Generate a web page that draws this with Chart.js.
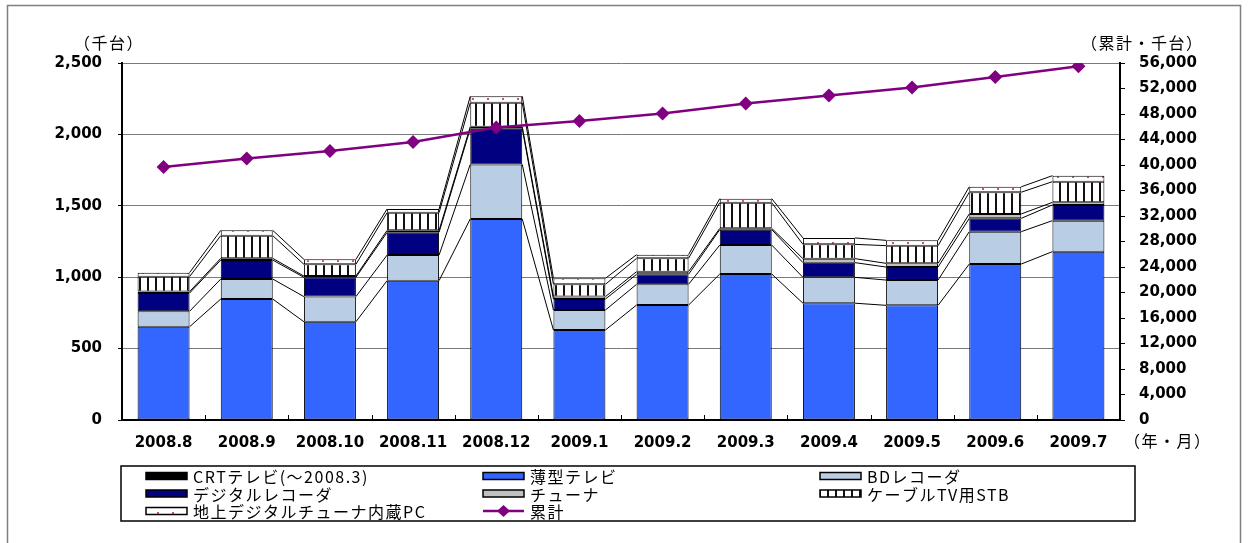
<!DOCTYPE html>
<html>
<head>
<meta charset="utf-8">
<script src="https://cdn.jsdelivr.net/npm/chart.js@4.4.1/dist/chart.umd.min.js"></script>
<style>
html, body { margin: 0; padding: 0; background: #fff; }
#wrap { width: 1248px; height: 543px; }
</style>
</head>
<body>
<div id="wrap"><canvas id="chart" width="1248" height="543"></canvas></div>
<script>
// 千台 / month
const months = ['2008.8', '2008.9', '2008.10', '2008.11', '2008.12', '2009.1', '2009.2', '2009.3', '2009.4', '2009.5', '2009.6', '2009.7'];
const crtTv = [0, 0, 0, 0, 0, 0, 0, 0, 0, 0, 0, 0];
const flatTv = [653, 847, 688, 976, 1408, 630, 805, 1022, 818, 803, 1092, 1179];
const bdRecorder = [108, 140, 176, 179, 382, 140, 145, 203, 181, 177, 227, 217];
const digitalRecorder = [128, 133, 135, 159, 250, 77, 70, 108, 103, 91, 93, 110];
const tuner = [10, 12, 9, 14, 14, 17, 19, 9, 28, 26, 31, 18];
const cableStb = [105, 159, 82, 124, 168, 86, 93, 180, 100, 124, 152, 145];
const pcTuner = [28, 37, 35, 26, 45, 42, 26, 28, 45, 37, 38, 42];
const cumulative = [39700, 41030, 42200, 43620, 45880, 46920, 48080, 49650, 50900, 52170, 53800, 55500];

const seriesNames = ['CRTテレビ(～2008.3)', '薄型テレビ', 'BDレコーダ', 'デジタルレコーダ', 'チューナ', 'ケーブルTV用STB', '地上デジタルチューナ内蔵PC', '累計'];

const canvas = document.getElementById('chart');
const ctx = canvas.getContext('2d');

function stripePattern() {
    const c = document.createElement('canvas');
    c.width = 8; c.height = 8;
    const g = c.getContext('2d');
    g.fillStyle = '#fff'; g.fillRect(0, 0, 8, 8);
    g.fillStyle = '#111'; g.fillRect(3, 0, 2, 8);
    return ctx.createPattern(c, 'repeat');
}

function dotPattern() {
    const c = document.createElement('canvas');
    c.width = 15; c.height = 6;
    const g = c.getContext('2d');
    g.fillStyle = '#fff'; g.fillRect(0, 0, 15, 6);
    g.fillStyle = '#d9458c'; g.fillRect(7, 2, 2, 2);
    return ctx.createPattern(c, 'repeat');
}

const fills = ['#000000', '#3366ff', '#b9cde5', '#000080', '#c0c0c0', stripePattern(), dotPattern()];
const barData = [crtTv, flatTv, bdRecorder, digitalRecorder, tuner, cableStb, pcTuner];
const purple = '#800080';

const tickFont = { family: '"DejaVu Sans"', size: 15, weight: 'bold' };
const jpFont = '16px "Noto Sans CJK JP"';

const datasets = [{
    type: 'line',
    label: seriesNames[7],
    data: cumulative,
    yAxisID: 'y1',
    borderColor: purple,
    backgroundColor: purple,
    borderWidth: 2.5,
    pointStyle: 'rectRot',
    pointRadius: 7,
    pointBorderWidth: 0,
    tension: 0
}];
for (let i = 0; i < barData.length; i++) {
    datasets.push({
        label: seriesNames[i],
        data: barData[i],
        yAxisID: 'y',
        backgroundColor: fills[i],
        borderColor: '#000',
        borderWidth: 1,
        borderSkipped: false,
        barPercentage: 0.625,
        categoryPercentage: 1
    });
}

// Excel-style series lines between the stacked bars
const seriesLines = {
    id: 'seriesLines',
    beforeDatasetsDraw(chart) {
        const c = chart.ctx;
        c.save();
        c.strokeStyle = '#000';
        c.lineWidth = 1;
        chart.data.datasets.forEach((ds, di) => {
            if (ds.type === 'line') return;
            const bars = chart.getDatasetMeta(di).data;
            for (let i = 0; i < bars.length - 1; i++) {
                const a = bars[i], b = bars[i + 1];
                c.beginPath();
                c.moveTo(a.x + a.width / 2, a.y);
                c.lineTo(b.x - b.width / 2, b.y);
                c.stroke();
            }
        });
        c.restore();
    }
};

function legendSymbol(c, i, x, y) {
    if (i === 7) {
        c.strokeStyle = purple;
        c.lineWidth = 2.5;
        c.beginPath(); c.moveTo(x, y); c.lineTo(x + 41, y); c.stroke();
        c.fillStyle = purple;
        c.beginPath();
        c.moveTo(x + 20.5, y - 6); c.lineTo(x + 27, y); c.lineTo(x + 20.5, y + 6); c.lineTo(x + 14, y);
        c.closePath(); c.fill();
        return;
    }
    c.fillStyle = fills[i];
    c.fillRect(x, y - 3.5, 41, 7);
    c.strokeStyle = '#000';
    c.lineWidth = 1.5;
    c.strokeRect(x, y - 3.5, 41, 7);
}

const decorations = {
    id: 'decorations',
    afterDraw(chart) {
        const c = chart.ctx;
        const xs = chart.scales.x;
        const area = chart.chartArea;
        c.save();
        // outer frame
        c.strokeStyle = '#7f7f7f';
        c.lineWidth = 1.5;
        c.strokeRect(7.5, 5.5, 1233, 600);

        // small ticks between categories
        c.strokeStyle = '#000';
        c.lineWidth = 1;
        for (let i = 0; i < months.length - 1; i++) {
            const bx = Math.round((xs.getPixelForValue(i) + xs.getPixelForValue(i + 1)) / 2) + 0.5;
            c.beginPath(); c.moveTo(bx, area.bottom); c.lineTo(bx, area.bottom - 5); c.stroke();
        }

        // axis titles
        c.fillStyle = '#000';
        c.font = jpFont;
        c.letterSpacing = '1.5px';
        c.textBaseline = 'middle';
        c.textAlign = 'left';
        c.fillText('（千台）', 74, 43);
        c.fillText('（累計・千台）', 1081, 43);
        c.fillText('（年・月）', 1124, 441);

        // legend
        c.strokeStyle = '#000';
        c.lineWidth = 1.5;
        c.strokeRect(121, 466, 1014, 55);
        const cols = [146, 483, 820];
        const rows = [476, 493.5, 511];
        for (let i = 0; i < seriesNames.length; i++) {
            const x = cols[i % 3], y = rows[Math.floor(i / 3)];
            legendSymbol(c, i, x, y);
            c.fillStyle = '#000';
            c.font = jpFont;
            c.fillText(seriesNames[i], x + 47, y + 1);
        }
        c.letterSpacing = '0px';
        c.restore();
    }
};

new Chart(canvas, {
    type: 'bar',
    data: { labels: months, datasets: datasets },
    options: {
        responsive: false,
        animation: false,
        layout: { padding: { top: 63, left: 0, right: 0, bottom: 0 } },
        plugins: {
            legend: { display: false },
            tooltip: { enabled: false }
        },
        scales: {
            x: {
                stacked: true,
                grid: { display: false, drawTicks: false },
                border: { color: '#000', width: 2 },
                ticks: { color: '#000', font: tickFont, padding: 14, maxRotation: 0, autoSkip: false },
                afterFit: s => { s.height = 123; }
            },
            y: {
                stacked: true,
                min: 0,
                max: 2500,
                ticks: {
                    stepSize: 500,
                    color: '#000',
                    font: tickFont,
                    padding: 16,
                    callback: v => v.toLocaleString('en-US')
                },
                grid: { color: '#7a7a7a', lineWidth: 1, tickLength: 4, tickColor: '#000' },
                border: { color: '#000', width: 2 },
                afterFit: s => { s.width = 122; }
            },
            y1: {
                position: 'right',
                min: 0,
                max: 56000,
                ticks: {
                    stepSize: 4000,
                    color: '#000',
                    font: tickFont,
                    padding: 14,
                    callback: v => v.toLocaleString('en-US')
                },
                grid: { drawOnChartArea: false, tickLength: 5, tickColor: '#000' },
                border: { color: '#000', width: 2 },
                afterFit: s => { s.width = 128; }
            }
        }
    },
    plugins: [seriesLines, decorations]
});
</script>
</body>
</html>
